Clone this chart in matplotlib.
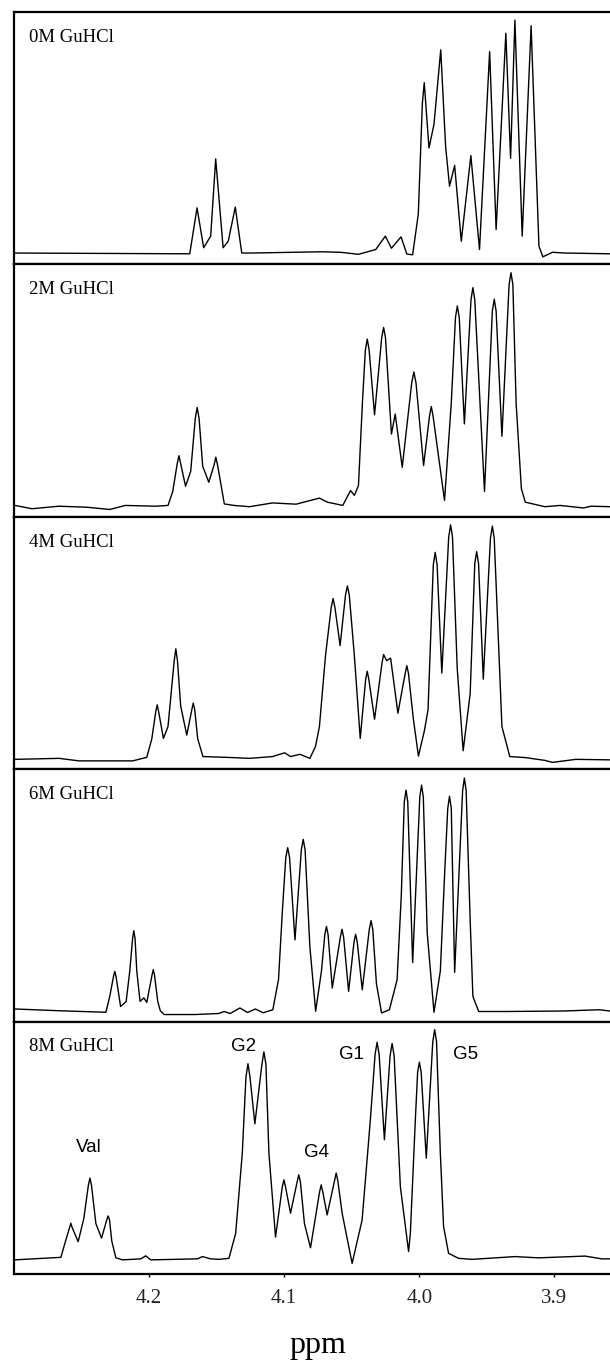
import matplotlib
matplotlib.use('Agg')
import matplotlib.pyplot as plt

# traced spectra as (ppm, intensity) pairs, intensity = fraction of panel height
trace_0M = [(4.2993, 0.045), (4.1699, 0.042), (4.1645, 0.224), (4.1596, 0.066), (4.1544, 0.112),
            (4.1507, 0.418), (4.1452, 0.066), (4.1414, 0.092), (4.1362, 0.227), (4.1314, 0.045),
            (4.1249, 0.045), (4.0724, 0.050), (4.0583, 0.048), (4.0450, 0.040), (4.0322, 0.059),
            (4.0251, 0.112), (4.0206, 0.064), (4.0135, 0.109), (4.0092, 0.041), (4.0049, 0.038),
            (4.0007, 0.200), (3.9977, 0.639), (3.9963, 0.720), (3.9928, 0.461), (3.9891, 0.555),
            (3.9841, 0.850), (3.9805, 0.468), (3.9776, 0.310), (3.9738, 0.392), (3.9689, 0.092),
            (3.9618, 0.431), (3.9554, 0.059), (3.9479, 0.843), (3.9431, 0.138), (3.9359, 0.916),
            (3.9324, 0.420), (3.9292, 0.968), (3.9238, 0.112), (3.9172, 0.945), (3.9114, 0.072),
            (3.9085, 0.030), (3.9014, 0.048), (3.8921, 0.045), (3.8588, 0.042)]

trace_2M = [(4.2993, 0.045), (4.2867, 0.032), (4.2667, 0.042), (4.2463, 0.038), (4.2291, 0.029),
            (4.2176, 0.045), (4.1951, 0.042), (4.1860, 0.045), (4.1825, 0.100), (4.1792, 0.210),
            (4.1779, 0.242), (4.1766, 0.210), (4.1730, 0.121), (4.1692, 0.180), (4.1658, 0.390),
            (4.1644, 0.433), (4.1630, 0.390), (4.1603, 0.200), (4.1558, 0.137), (4.1519, 0.205),
            (4.1506, 0.236), (4.1493, 0.205), (4.1443, 0.051), (4.1371, 0.045), (4.1256, 0.040),
            (4.1086, 0.055), (4.0912, 0.050), (4.0739, 0.074), (4.0680, 0.058), (4.0566, 0.045),
            (4.0509, 0.104), (4.0480, 0.085), (4.0450, 0.124), (4.0421, 0.450), (4.0399, 0.660),
            (4.0385, 0.704), (4.0371, 0.660), (4.0331, 0.404), (4.0278, 0.710), (4.0264, 0.750),
            (4.0250, 0.710), (4.0206, 0.328), (4.0178, 0.407), (4.0126, 0.196), (4.0056, 0.530),
            (4.0040, 0.574), (4.0024, 0.530), (3.9968, 0.203), (3.9924, 0.400), (3.9911, 0.437),
            (3.9898, 0.400), (3.9813, 0.065), (3.9763, 0.450), (3.9732, 0.790), (3.9718, 0.835),
            (3.9704, 0.790), (3.9666, 0.368), (3.9617, 0.860), (3.9603, 0.908), (3.9589, 0.860),
            (3.9517, 0.100), (3.9459, 0.815), (3.9445, 0.862), (3.9431, 0.815), (3.9388, 0.319),
            (3.9335, 0.920), (3.9321, 0.967), (3.9307, 0.920), (3.9283, 0.450), (3.9244, 0.111),
            (3.9215, 0.058), (3.9071, 0.040), (3.8958, 0.045), (3.8784, 0.035), (3.8729, 0.042),
            (3.8588, 0.040)]

trace_4M = [(4.2993, 0.039), (4.2667, 0.043), (4.2520, 0.033), (4.2121, 0.033), (4.2017, 0.047),
            (4.1980, 0.120), (4.1950, 0.230), (4.1940, 0.255), (4.1930, 0.230), (4.1894, 0.122),
            (4.1860, 0.169), (4.1814, 0.430), (4.1802, 0.477), (4.1790, 0.430), (4.1766, 0.250),
            (4.1721, 0.135), (4.1684, 0.235), (4.1673, 0.262), (4.1662, 0.235), (4.1640, 0.120),
            (4.1601, 0.050), (4.1429, 0.047), (4.1256, 0.043), (4.1086, 0.050), (4.0997, 0.065),
            (4.0953, 0.050), (4.0883, 0.059), (4.0810, 0.043), (4.0768, 0.090), (4.0739, 0.169),
            (4.0694, 0.450), (4.0652, 0.640), (4.0638, 0.676), (4.0624, 0.640), (4.0586, 0.490),
            (4.0546, 0.690), (4.0532, 0.726), (4.0518, 0.690), (4.0480, 0.447), (4.0437, 0.122),
            (4.0397, 0.355), (4.0385, 0.388), (4.0373, 0.355), (4.0331, 0.198), (4.0276, 0.420),
            (4.0264, 0.454), (4.0241, 0.430), (4.0212, 0.440), (4.0158, 0.222), (4.0104, 0.380),
            (4.0092, 0.410), (4.0080, 0.380), (4.0044, 0.200), (4.0006, 0.052), (3.9963, 0.150),
            (3.9935, 0.235), (3.9896, 0.810), (3.9882, 0.859), (3.9868, 0.810), (3.9833, 0.381),
            (3.9782, 0.920), (3.9768, 0.968), (3.9754, 0.920), (3.9719, 0.400), (3.9675, 0.073),
            (3.9623, 0.300), (3.9589, 0.815), (3.9575, 0.862), (3.9561, 0.815), (3.9526, 0.357),
            (3.9473, 0.915), (3.9459, 0.963), (3.9445, 0.915), (3.9388, 0.169), (3.9330, 0.050),
            (3.9215, 0.046), (3.9071, 0.035), (3.9014, 0.027), (3.8841, 0.039), (3.8588, 0.037)]

trace_6M = [(4.2993, 0.050), (4.2667, 0.043), (4.2320, 0.037), (4.2291, 0.100), (4.2263, 0.180),
            (4.2254, 0.199), (4.2245, 0.180), (4.2211, 0.060), (4.2170, 0.079), (4.2143, 0.200),
            (4.2122, 0.330), (4.2113, 0.360), (4.2104, 0.330), (4.2091, 0.200), (4.2067, 0.080),
            (4.2039, 0.094), (4.2017, 0.076), (4.1978, 0.185), (4.1969, 0.206), (4.1960, 0.185),
            (4.1936, 0.080), (4.1917, 0.043), (4.1888, 0.028), (4.1659, 0.028), (4.1486, 0.032),
            (4.1443, 0.040), (4.1400, 0.032), (4.1328, 0.054), (4.1271, 0.036), (4.1213, 0.050),
            (4.1155, 0.035), (4.1084, 0.047), (4.1042, 0.166), (4.1012, 0.450), (4.0988, 0.650),
            (4.0974, 0.689), (4.0960, 0.650), (4.0920, 0.324), (4.0873, 0.680), (4.0859, 0.722),
            (4.0845, 0.680), (4.0810, 0.298), (4.0767, 0.041), (4.0724, 0.200), (4.0699, 0.345),
            (4.0687, 0.377), (4.0675, 0.345), (4.0644, 0.133), (4.0584, 0.335), (4.0572, 0.366),
            (4.0560, 0.335), (4.0523, 0.120), (4.0483, 0.315), (4.0471, 0.346), (4.0459, 0.315),
            (4.0422, 0.126), (4.0370, 0.365), (4.0357, 0.400), (4.0344, 0.365), (4.0317, 0.150),
            (4.0279, 0.034), (4.0221, 0.047), (4.0164, 0.166), (4.0133, 0.500), (4.0111, 0.870),
            (4.0098, 0.917), (4.0085, 0.870), (4.0049, 0.234), (3.9996, 0.890), (3.9983, 0.937),
            (3.9970, 0.890), (3.9941, 0.350), (3.9891, 0.037), (3.9844, 0.200), (3.9811, 0.600),
            (3.9789, 0.845), (3.9776, 0.893), (3.9763, 0.845), (3.9738, 0.195), (3.9679, 0.915),
            (3.9666, 0.965), (3.9653, 0.915), (3.9623, 0.400), (3.9603, 0.100), (3.9560, 0.040),
            (3.9359, 0.040), (3.8928, 0.042), (3.8669, 0.047), (3.8588, 0.042)]

trace_8M = [(4.2993, 0.056), (4.2653, 0.066), (4.2616, 0.135), (4.2588, 0.185), (4.2579, 0.201),
            (4.2570, 0.185), (4.2525, 0.128), (4.2483, 0.220), (4.2450, 0.350), (4.2438, 0.380),
            (4.2426, 0.350), (4.2394, 0.200), (4.2352, 0.142), (4.2313, 0.215), (4.2303, 0.230),
            (4.2293, 0.215), (4.2276, 0.130), (4.2246, 0.064), (4.2197, 0.056), (4.2061, 0.060),
            (4.2025, 0.072), (4.1988, 0.056), (4.1642, 0.060), (4.1605, 0.069), (4.1544, 0.060),
            (4.1483, 0.058), (4.1409, 0.062), (4.1359, 0.161), (4.1310, 0.479), (4.1283, 0.780),
            (4.1268, 0.833), (4.1253, 0.780), (4.1217, 0.595), (4.1165, 0.830), (4.1150, 0.880),
            (4.1135, 0.830), (4.1113, 0.479), (4.1064, 0.146), (4.1014, 0.345), (4.1002, 0.373),
            (4.0990, 0.345), (4.0953, 0.241), (4.0904, 0.365), (4.0892, 0.393), (4.0880, 0.365),
            (4.0850, 0.200), (4.0805, 0.104), (4.0738, 0.325), (4.0726, 0.353), (4.0714, 0.325),
            (4.0682, 0.234), (4.0627, 0.370), (4.0615, 0.400), (4.0603, 0.370), (4.0571, 0.241),
            (4.0497, 0.042), (4.0423, 0.214), (4.0362, 0.611), (4.0327, 0.870), (4.0312, 0.918),
            (4.0297, 0.870), (4.0258, 0.532), (4.0216, 0.865), (4.0201, 0.913), (4.0186, 0.865),
            (4.0140, 0.347), (4.0079, 0.089), (4.0066, 0.161), (4.0029, 0.611), (4.0012, 0.800),
            (3.9999, 0.839), (3.9986, 0.800), (3.9948, 0.459), (3.9900, 0.920), (3.9886, 0.968),
            (3.9872, 0.920), (3.9844, 0.479), (3.9820, 0.188), (3.9783, 0.082), (3.9709, 0.062),
            (3.9610, 0.058), (3.9290, 0.069), (3.9118, 0.064), (3.8773, 0.071), (3.8649, 0.060),
            (3.8588, 0.060)]

panel_labels = ['0M GuHCl', '2M GuHCl', '4M GuHCl', '6M GuHCl', '8M GuHCl']
traces = [trace_0M, trace_2M, trace_4M, trace_6M, trace_8M]

peak_names = ['Val', 'G2', 'G4', 'G1', 'G5']
peak_ppm = [4.245, 4.130, 4.076, 4.050, 3.966]
peak_y = [0.50, 0.90, 0.48, 0.87, 0.87]

xticks = [4.2, 4.1, 4.0, 3.9]

fig = plt.figure(figsize=(6.1, 13.62), dpi=100)

left = 14 / 610
bottom = 88 / 1362
top = 1350 / 1362
h = (top - bottom) / 5

axes = []
for i, tr in enumerate(traces):
    x = [p[0] for p in tr]
    y = [p[1] for p in tr]
    ax = fig.add_axes([left, top - (i + 1) * h, 1 - left, h])
    ax.plot(x, y, color='black', lw=1.0)
    ax.set_xlim(4.30, 3.8588)
    ax.set_ylim(0, 1)
    ax.set_yticks([])
    for s in ['left', 'top', 'bottom']:
        ax.spines[s].set_linewidth(1.6)
    ax.spines['right'].set_visible(False)
    ax.text(0.025, 0.882, panel_labels[i], transform=ax.transAxes,
            family='Liberation Serif', fontsize=13.5, va='baseline', ha='left')
    if i < 4:
        ax.set_xticks([])
    else:
        ax.set_xticks(xticks)
        ax.set_xticklabels([f'{t:.1f}' for t in xticks], family='Liberation Serif',
                           fontsize=15, color='#222222')
        ax.tick_params(axis='x', direction='out', length=2.5, width=1.0, pad=8)
    axes.append(ax)

for name, px, py in zip(peak_names, peak_ppm, peak_y):
    axes[4].text(px, py, name, family='Liberation Sans', fontsize=13.5,
                 ha='center', va='center')

fig.text(318 / 610, 9 / 1362, 'ppm', family='Liberation Serif', fontsize=23,
         ha='center', va='baseline')

fig.savefig('out.png', dpi=100)
